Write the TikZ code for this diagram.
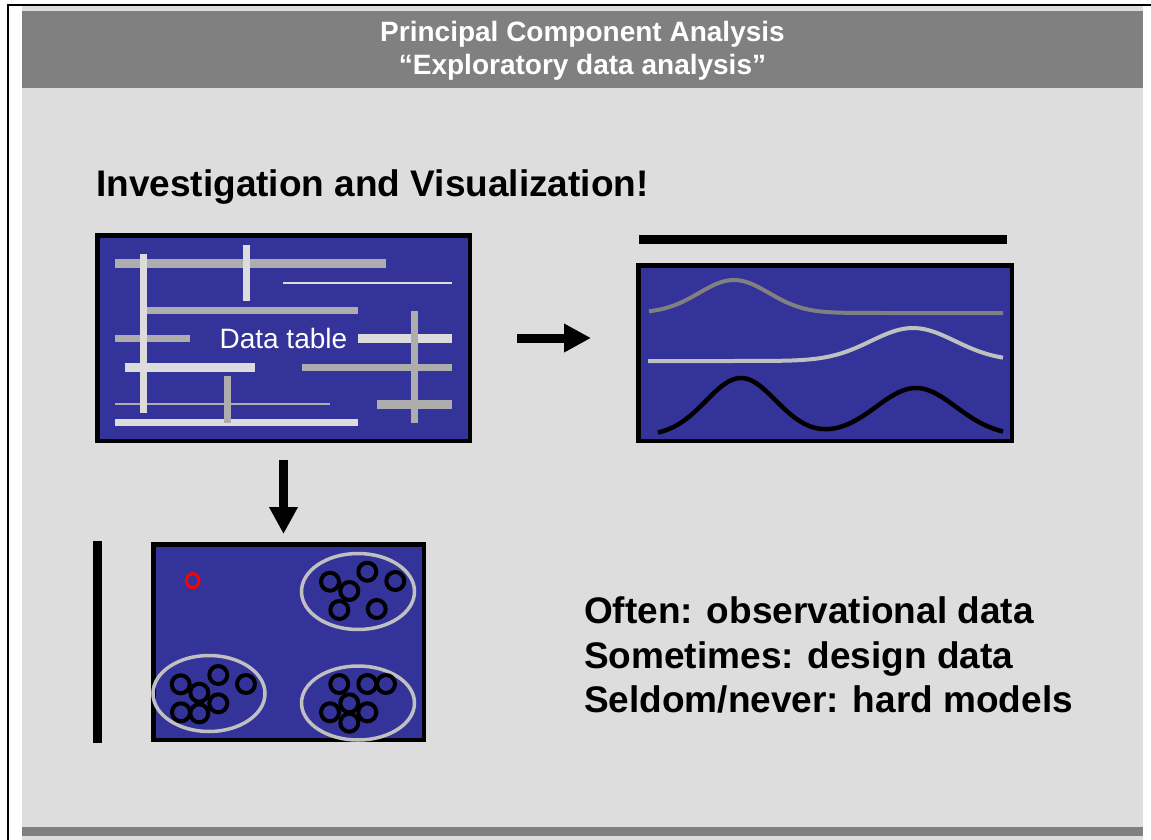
\documentclass[tikz,border=0pt]{standalone}
\usepackage{fontspec}
\setmainfont{Liberation Sans}
\usetikzlibrary{arrows.meta,positioning}

\definecolor{panelblue}{HTML}{333399}
\definecolor{slidebg}{HTML}{DDDDDD}
\definecolor{headgray}{HTML}{808080}
\definecolor{barlight}{HTML}{DCDCDC}
\definecolor{bargray}{HTML}{ADADAD}
\definecolor{ringgray}{HTML}{C0C0C0}

\begin{document}
\begin{tikzpicture}[
    x = 1pt, y = -1pt, % one unit = one pixel, y runs down
    panel/.style = {draw = black, line width = 4.5pt, fill = panelblue, inner sep = 0pt},
    bigarrow/.style = {line width = 9pt, -{Triangle[length = 27pt, width = 27pt]}},
    lbar/.style = {barlight, line width = #1},
    gbar/.style = {bargray, line width = #1},
    dot/.style = {black, line width = 4pt}
    ]

    \tikzset{every node/.style = {inner sep = 0pt}}
    \useasboundingbox (0,0) rectangle (1151,840);

    % slide
    \fill[white] (0,0) rectangle (1151,840);
    \fill[slidebg] (22,6) rectangle (1143,840);
    \fill[headgray] (22,10.7) rectangle (1143,88.3);
    \fill[headgray] (22,827.3) rectangle (1143,836);
    \draw[line width = 2pt] (8,840) -- (8,5) -- (1151,5);

    \node[text = white, font = \fontsize{28}{33}\selectfont\bfseries, anchor = base] (title) at (582.5,42) {Principal Component Analysis};
    \node[text = white, font = \fontsize{28}{33}\selectfont\bfseries, anchor = base] (subtitle) at (582.5,75) {“Exploratory data analysis”};
    \node[font = \fontsize{37}{44}\selectfont\bfseries, anchor = base west] (head) at (96,196.5) {Investigation and Visualization!};

    % panels
    \node[panel, minimum width = 372.5pt, minimum height = 205.5pt] (data) at (283.5,338) {};
    \node[panel, minimum width = 373.5pt, minimum height = 175.5pt] (loads) at (825,353) {};
    \node[panel, minimum width = 270.5pt, minimum height = 195.5pt] (scores) at (288.5,642) {};

    % data table bars
    \draw[gbar = 9pt] (115,263.5) -- (386,263.5);
    \draw[lbar = 2pt] (283,282.5) -- (452,282.5);
    \draw[gbar = 7pt] (147,310.7) -- (358,310.7);
    \draw[gbar = 7pt] (115,338.7) -- (190,338.7);
    \draw[lbar = 9pt] (358,338.5) -- (452,338.5);
    \draw[lbar = 9pt] (125,367) -- (255,367);
    \draw[gbar = 7pt] (302,367) -- (452,367);
    \draw[gbar = 2pt] (115,404) -- (330,404);
    \draw[gbar = 9pt] (377,404.7) -- (452,404.7);
    \draw[lbar = 7pt] (115,422.7) -- (358,422.7);
    \draw[lbar = 7pt] (143.3,254) -- (143.3,413);
    \draw[lbar = 7pt] (246,245) -- (246,301);
    \draw[gbar = 7pt] (414.3,311) -- (414.3,423);
    \draw[gbar = 7pt] (227.7,376) -- (227.7,423);
    \node[text = white, font = \fontsize{28}{34}\selectfont, anchor = base] (label) at (283.4,348.3) {Data table};

    % loadings
    \draw[line width = 9pt] (639,239.5) -- (1007,239.5);
    \draw[headgray, line width = 4pt] plot[domain = 649:1003, samples = 90]
        (\x, {313-33*exp(-0.5*((\x-734)/35)^2)});
    \draw[ringgray, line width = 4pt] plot[domain = 648:1003, samples = 90]
        (\x, {361-33*exp(-0.5*((\x-913)/42)^2)});
    \draw[line width = 4.5pt] plot[domain = 658:1003, samples = 120]
        (\x, {436-58*exp(-0.5*((\x-741)/35)^2)-48*exp(-0.5*((\x-916)/40)^2)});

    % scores
    \draw[line width = 9pt] (97.8,541) -- (97.8,743);
    \draw[ringgray, line width = 3.5pt] (358,591.5) ellipse[x radius = 56.5pt, y radius = 38pt];
    \draw[ringgray, line width = 3.5pt] (209,693.5) ellipse[x radius = 56pt, y radius = 38pt];
    \draw[ringgray, line width = 3.5pt] (358,703) ellipse[x radius = 56.5pt, y radius = 37pt];
    \foreach \p in {(330,581.7), (349.3,591), (367.3,571.7), (395.3,581), (339.3,610), (376.7,609),
                    (180.7,684.3), (199.3,692.7), (218.3,675), (246,684), (181,712.3), (199.3,713.3), (218.3,703.3),
                    (339.3,684), (367.3,684), (386,684), (349.3,703.3), (330,712.3), (367.3,712.3), (349.3,722.7)}
        \draw[dot] \p circle[radius = 9pt];
    \draw[red, line width = 3pt] (192.7,580.7) ellipse[x radius = 6.3pt, y radius = 7pt];

    % arrows
    \draw[bigarrow, shorten < = 45pt, shorten > = 45pt] (data.east) -- (data.east -| loads.west);
    \draw[bigarrow, shorten < = 17pt, shorten > = 8pt] (data.south) -- (data.south |- scores.north);

    \node[font = \fontsize{37}{44}\selectfont\bfseries, anchor = base west] (often) at (584,623) {Often: observational data};
    \node[font = \fontsize{37}{44}\selectfont\bfseries, anchor = base west] (sometimes) at (584,668) {Sometimes: design data};
    \node[font = \fontsize{37}{44}\selectfont\bfseries, anchor = base west] (seldom) at (584,712) {Seldom/never: hard models};
\end{tikzpicture}
\end{document}
